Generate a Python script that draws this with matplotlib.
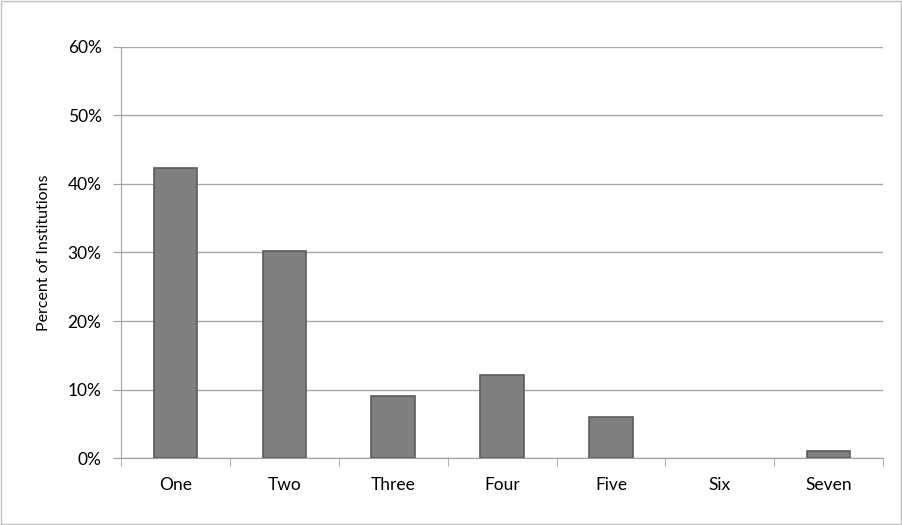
import numpy as np
import matplotlib.pyplot as plt
from matplotlib.patches import Rectangle

# data
categories = ['One', 'Two', 'Three', 'Four', 'Five', 'Six', 'Seven']
percent = [42.3, 30.2, 9.1, 12.1, 6.0, 0.0, 1.0]
yticks = [0, 10, 20, 30, 40, 50, 60]

plt.rcParams['font.family'] = ['Lato', 'DejaVu Sans']

fig = plt.figure(figsize=(9.03, 5.25), dpi=100)
ax = fig.add_axes([0.134, 0.1276, 0.844, 0.7829])

x = np.arange(len(categories))
edge_w = [1.2 if v > 0 else 0 for v in percent]
ax.bar(x, percent, width=0.4, color='#7f7f7f', edgecolor='#5c5c5c', linewidth=edge_w, zorder=3)

ax.set_xlim(-0.5, len(categories) - 0.5)
ax.set_ylim(0, 60)
ax.set_yticks(yticks)
ax.set_yticklabels([f'{v}%' for v in yticks], fontsize=12.5)
ax.set_xticks(x)
ax.set_xticklabels(categories, fontsize=12.5)
ax.set_xticks(np.arange(-0.5, len(categories)), minor=True)
ax.tick_params(axis='x', which='major', length=0, pad=14)
ax.tick_params(axis='x', which='minor', length=6, color='#a0a0a0', direction='out')
ax.tick_params(axis='y', length=6, color='#a0a0a0', direction='out', pad=8)

ax.grid(axis='y', color='#a6a6a6', linewidth=1, zorder=0)
for s in ['top', 'right']:
    ax.spines[s].set_visible(False)
for s in ['left', 'bottom']:
    ax.spines[s].set_color('#a0a0a0')

ax.set_ylabel('Percent of Institutions', fontsize=11.5, labelpad=12)

# outer chart border
fig.patches.append(Rectangle((0.001, 0.002), 0.997, 0.996, transform=fig.transFigure,
                             fill=False, edgecolor='#bfbfbf', linewidth=1))

fig.savefig('out.png', dpi=100)
